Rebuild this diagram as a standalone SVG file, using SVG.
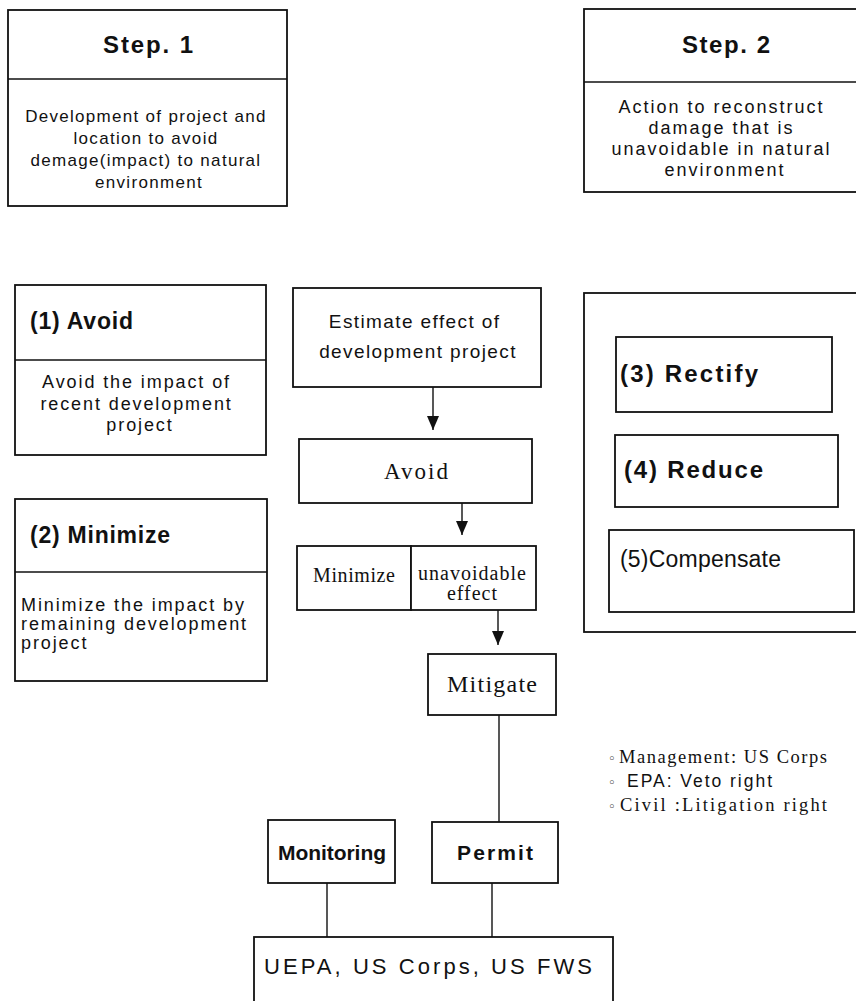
<svg xmlns="http://www.w3.org/2000/svg" width="856" height="1001" viewBox="0 0 856 1001">
<style>
.box{fill:#fff;stroke:#111;stroke-width:1.8}
.div{stroke:#111;stroke-width:1.6}
.ln{stroke:#111;stroke-width:1.4;fill:none}
.t{font-family:"Liberation Sans",Arial,sans-serif;fill:#111}
.b{font-weight:bold}
.s{font-family:"Liberation Serif","Times New Roman",serif;fill:#111}
.body{font-size:18px;letter-spacing:1.9px}
.mid{text-anchor:middle}
.bul{font-family:"DejaVu Sans",sans-serif;font-size:13px;fill:#111}
</style>
<defs>
<marker id="ah" viewBox="0 0 14 12" refX="14" refY="6" markerWidth="14" markerHeight="12" markerUnits="userSpaceOnUse" orient="auto">
<path d="M0,0 L14,6 L0,12 z" fill="#111"/>
</marker>
</defs>
<rect width="856" height="1001" fill="#fff"/>

<g id="step1">
<rect class="box" x="8" y="10" width="279" height="196"/>
<line class="div" x1="8" y1="79" x2="287" y2="79"/>
<text class="t b mid" x="148" y="53" font-size="24" textLength="90" lengthAdjust="spacing">Step. 1</text>
<text class="t mid" font-size="17" letter-spacing="1.3">
<tspan x="149" y="122">Development of project and</tspan>
<tspan x="149" y="144">location to avoid</tspan>
<tspan x="149" y="166">demage(impact) to natural</tspan>
<tspan x="149" y="188">environment</tspan>
</text>
</g>

<g id="step2">
<rect class="box" x="584" y="9" width="290" height="183"/>
<line class="div" x1="584" y1="82" x2="874" y2="82"/>
<text class="t b mid" x="726" y="53" font-size="24" textLength="88" lengthAdjust="spacing">Step. 2</text>
<text class="t mid" font-size="18" letter-spacing="2">
<tspan x="725" y="113">Action to reconstruct</tspan>
<tspan x="725" y="134">damage that is</tspan>
<tspan x="725" y="155">unavoidable in natural</tspan>
<tspan x="725" y="176">environment</tspan>
</text>
</g>

<g id="avoid1">
<rect class="box" x="15" y="285" width="251" height="170"/>
<line class="div" x1="15" y1="360" x2="266" y2="360"/>
<text class="t b" x="30" y="329" font-size="23" textLength="103" lengthAdjust="spacing">(1) Avoid</text>
<text class="t body mid">
<tspan x="140" y="388">Avoid the impact of</tspan>
<tspan x="140" y="410">recent development</tspan>
<tspan x="140" y="431">project</tspan>
</text>
</g>

<g id="minimize2">
<rect class="box" x="15" y="499" width="252" height="182"/>
<line class="div" x1="15" y1="572" x2="267" y2="572"/>
<text class="t b" x="30" y="543" font-size="23" textLength="140" lengthAdjust="spacing">(2) Minimize</text>
<text class="t body">
<tspan x="21" y="611">Minimize the impact by</tspan>
<tspan x="21" y="630">remaining development</tspan>
<tspan x="21" y="649">project</tspan>
</text>
</g>

<g id="estimate">
<rect class="box" x="293" y="288" width="248" height="99"/>
<text class="t mid" font-size="19" letter-spacing="1.4">
<tspan x="418" y="328">Estimate effect of</tspan>
<tspan x="418" y="358">development project</tspan>
</text>
</g>

<g id="avoid">
<rect class="box" x="299" y="439" width="233" height="64"/>
<text class="s mid" x="416" y="479" font-size="23" textLength="64" lengthAdjust="spacing">Avoid</text>
</g>

<g id="minimize">
<rect class="box" x="297" y="546" width="114" height="64"/>
<text class="s mid" x="354" y="582" font-size="20" textLength="82" lengthAdjust="spacing">Minimize</text>
</g>

<g id="unavoidable">
<rect class="box" x="411" y="546" width="125" height="64"/>
<text class="s mid" x="472" y="580" font-size="20" textLength="108" lengthAdjust="spacing">unavoidable</text>
<text class="s mid" x="472" y="600" font-size="20" textLength="50" lengthAdjust="spacing">effect</text>
</g>

<g id="mitigate">
<rect class="box" x="428" y="654" width="128" height="61"/>
<text class="s mid" x="492" y="692" font-size="24" textLength="90" lengthAdjust="spacing">Mitigate</text>
</g>

<g id="step2-actions">
<rect class="box" x="584" y="293" width="290" height="339"/>
</g>
<g id="rectify">
<rect class="box" x="616" y="337" width="216" height="75"/>
<text class="t b" x="620" y="382" font-size="24" textLength="138" lengthAdjust="spacing">(3) Rectify</text>
</g>
<g id="reduce">
<rect class="box" x="615" y="435" width="223" height="72"/>
<text class="t b" x="624" y="478" font-size="24" textLength="139" lengthAdjust="spacing">(4) Reduce</text>
</g>
<g id="compensate">
<rect class="box" x="609" y="530" width="245" height="82"/>
<text class="t" x="620" y="567" font-size="23" textLength="161" lengthAdjust="spacing">(5)Compensate</text>
</g>

<g id="notes">
<text class="bul" x="608" y="763">◦</text>
<text class="s" x="619" y="763" font-size="18.5" textLength="208" lengthAdjust="spacing">Management: US Corps</text>
<text class="bul" x="608" y="787">◦</text>
<text class="t" x="627" y="787" font-size="17.5" textLength="145" lengthAdjust="spacing">EPA: Veto right</text>
<text class="bul" x="608" y="811">◦</text>
<text class="s" x="620" y="811" font-size="18.5" textLength="207" lengthAdjust="spacing">Civil :Litigation right</text>
</g>

<g id="monitoring">
<rect class="box" x="268" y="820" width="127" height="63"/>
<text class="t b mid" x="332" y="860" font-size="21" textLength="108" lengthAdjust="spacing">Monitoring</text>
</g>

<g id="permit">
<rect class="box" x="432" y="822" width="126" height="61"/>
<text class="t b mid" x="495" y="860" font-size="21" textLength="76" lengthAdjust="spacing">Permit</text>
</g>

<g id="agencies">
<rect class="box" x="254" y="937" width="359" height="80"/>
<text class="t" x="264" y="974" font-size="22" textLength="328" lengthAdjust="spacing">UEPA, US Corps, US FWS</text>
</g>

<g id="connectors">
<line class="ln" x1="433" y1="387" x2="433" y2="430" marker-end="url(#ah)"/>
<line class="ln" x1="462" y1="503" x2="462" y2="535" marker-end="url(#ah)"/>
<line class="ln" x1="498" y1="610" x2="498" y2="645" marker-end="url(#ah)"/>
<line class="ln" x1="499" y1="715" x2="499" y2="822"/>
<line class="ln" x1="327" y1="883" x2="327" y2="937"/>
<line class="ln" x1="492" y1="883" x2="492" y2="937"/>
</g>
</svg>
